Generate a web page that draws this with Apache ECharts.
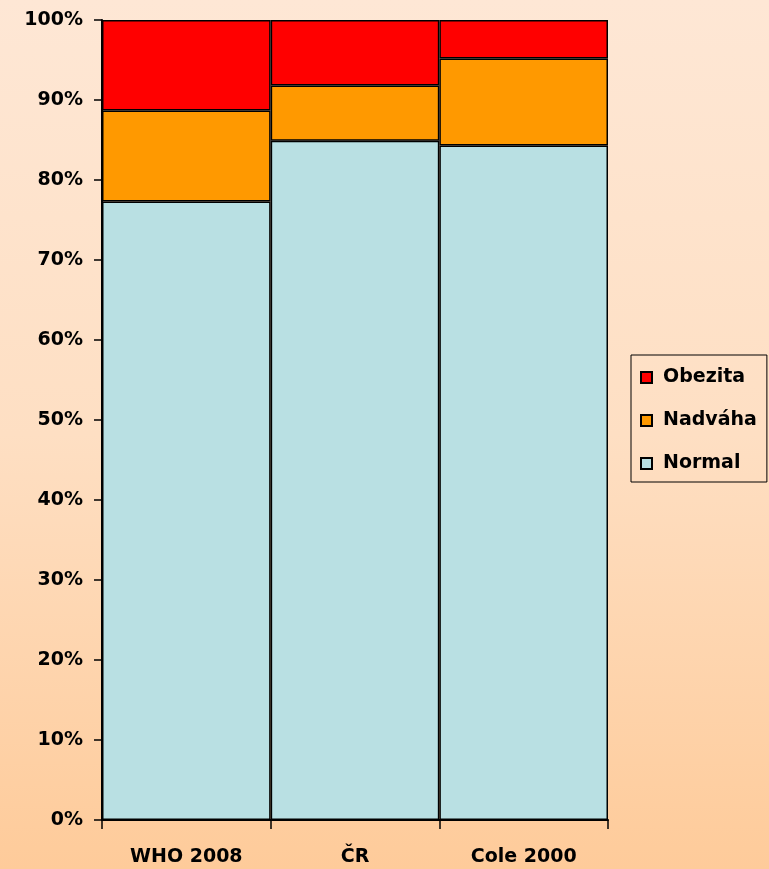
<!DOCTYPE html>
<html>
<head>
<meta charset="utf-8">
<script src="https://cdn.jsdelivr.net/npm/echarts@6/dist/echarts.min.js"></script>
<style>
  html, body { margin: 0; padding: 0; }
  #chart {
    width: 769px; height: 869px;
    background: linear-gradient(to bottom, #fee7d5 0%, #fedfc3 50%, #fecb9a 100%);
  }
</style>
</head>
<body>
<div id="chart"></div>
<script>
const categories = ['WHO 2008', 'ČR', 'Cole 2000']
const normal = [77.3, 84.9, 84.3]
const nadvaha = [11.4, 6.9, 10.9]
const obezita = [11.3, 8.2, 4.8]
const yTicks = [0, 10, 20, 30, 40, 50, 60, 70, 80, 90, 100]

const font = 'DejaVu Sans'
const chart = echarts.init(document.getElementById('chart'), null, { renderer: 'canvas' })

const barStyle = color => ({ color, borderColor: '#000', borderWidth: 1.5 })

chart.setOption({
  backgroundColor: 'transparent',
  animation: false,
  grid: { left: 102, top: 20, width: 506, height: 800, containLabel: false },
  legend: {
    orient: 'vertical',
    left: 631,
    top: 355,
    data: ['Obezita', 'Nadváha', 'Normal'],
    icon: 'rect',
    itemWidth: 11,
    itemHeight: 11,
    itemGap: 24,
    padding: [13, 10, 9, 9],
    borderColor: '#000',
    borderWidth: 1,
    textStyle: {
      fontFamily: font, fontWeight: 'bold', fontSize: 19, color: '#000',
      padding: [0, 0, 0, 6],
    },
  },
  xAxis: {
    type: 'category',
    data: categories,
    axisLine: { lineStyle: { color: '#000', width: 2 } },
    axisTick: { show: true, length: 9, lineStyle: { color: '#000', width: 1.5 } },
    axisLabel: { margin: 28, fontFamily: font, fontWeight: 'bold', fontSize: 19, color: '#000' },
  },
  yAxis: {
    type: 'value',
    min: yTicks[0],
    max: yTicks[yTicks.length - 1],
    interval: 10,
    splitLine: { show: false },
    axisLine: { show: true, lineStyle: { color: '#000', width: 2 } },
    axisTick: { show: true, length: 8, lineStyle: { color: '#000', width: 1.5 } },
    axisLabel: {
      margin: 19,
      formatter: '{value}%',
      fontFamily: font, fontWeight: 'bold', fontSize: 19, color: '#000',
    },
  },
  series: [
    { name: 'Normal', type: 'bar', stack: 'a', data: normal, barCategoryGap: 0, itemStyle: barStyle('#b9e0e3') },
    { name: 'Nadváha', type: 'bar', stack: 'a', data: nadvaha, barCategoryGap: 0, itemStyle: barStyle('#ff9900') },
    { name: 'Obezita', type: 'bar', stack: 'a', data: obezita, barCategoryGap: 0, itemStyle: barStyle('#ff0000') },
  ],
})
</script>
</body>
</html>
